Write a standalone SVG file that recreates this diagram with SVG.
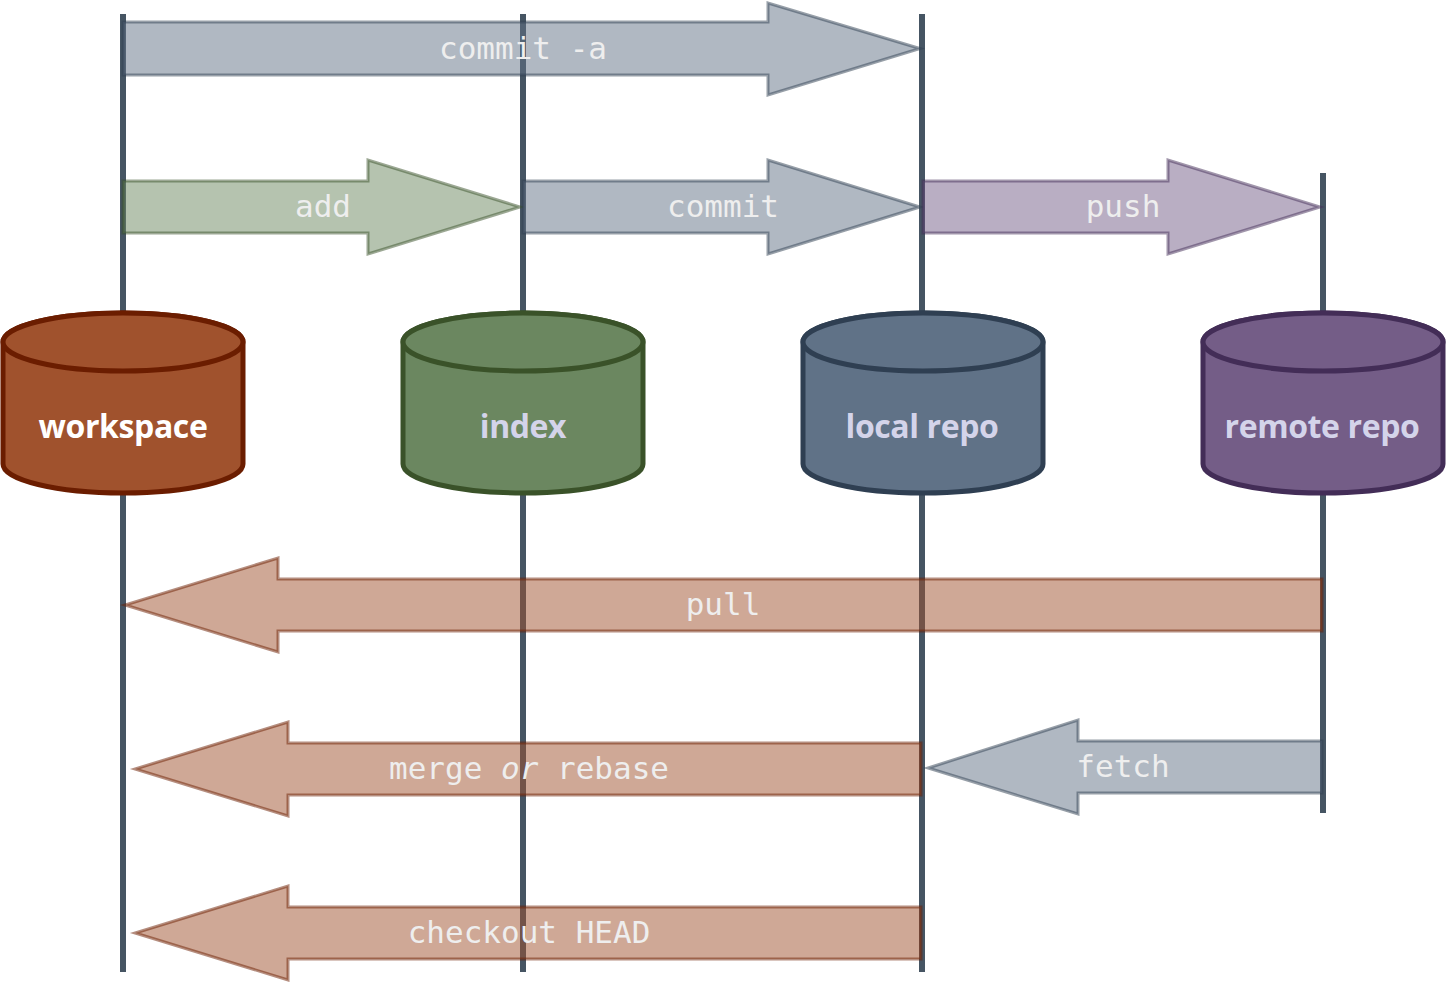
<svg xmlns="http://www.w3.org/2000/svg" width="1446" height="982" viewBox="0 0 1446 982">
  <style>
    .lane { stroke: #465563; stroke-width: 6; fill: none; }
    .cyl { stroke-width: 5; }
    .node-label { font-family: "Open Sans", "Liberation Sans", sans-serif; font-weight: 700; font-size: 32px; text-anchor: middle; letter-spacing: -0.4px; }
    .arrow { stroke-width: 3; fill-opacity: 0.5; stroke-opacity: 0.5; stroke-linejoin: miter; }
    .cmd { font-family: "DejaVu Sans Mono", "Liberation Mono", monospace; font-size: 31px; fill: #eeeeee; text-anchor: middle; }
    .slate { fill: #617185; stroke: #2f3f52; }
    .green { fill: #6b8760; stroke: #3a5229; }
    .plum { fill: #745d87; stroke: #432d57; }
    .rust { fill: #a0522d; stroke: #6b1d00; }
  </style>

  <!-- vertical lanes -->
  <g id="lanes">
    <line class="lane" x1="123" y1="14" x2="123" y2="972"/>
    <line class="lane" x1="523" y1="14" x2="523" y2="972"/>
    <line class="lane" x1="922" y1="14" x2="922" y2="972"/>
    <line class="lane" x1="1323" y1="173" x2="1323" y2="813"/>
  </g>

  <!-- storage cylinders -->
  <g id="workspace">
    <path class="cyl" fill="#a0522d" stroke="#6b1d00" d="M3,342 L3,464 A120,29 0 0 0 243,464 L243,342 A120,29 0 0 0 3,342 Z"/>
    <ellipse class="cyl" fill="#a0522d" stroke="#6b1d00" cx="123" cy="342" rx="120" ry="29"/>
    <text class="node-label" x="123" y="438" fill="#ffffff">workspace</text>
  </g>
  <g id="index">
    <path class="cyl" fill="#6b8760" stroke="#3a5229" d="M403,342 L403,464 A120,29 0 0 0 643,464 L643,342 A120,29 0 0 0 403,342 Z"/>
    <ellipse class="cyl" fill="#6b8760" stroke="#3a5229" cx="523" cy="342" rx="120" ry="29"/>
    <text class="node-label" x="523" y="438" fill="#d4d4ea">index</text>
  </g>
  <g id="local-repo">
    <path class="cyl" fill="#607287" stroke="#2f3f52" d="M803,342 L803,464 A120,29 0 0 0 1043,464 L1043,342 A120,29 0 0 0 803,342 Z"/>
    <ellipse class="cyl" fill="#607287" stroke="#2f3f52" cx="923" cy="342" rx="120" ry="29"/>
    <text class="node-label" x="922" y="438" fill="#d4d4ea">local repo</text>
  </g>
  <g id="remote-repo">
    <path class="cyl" fill="#745d87" stroke="#432d57" d="M1203,342 L1203,464 A120,29 0 0 0 1443,464 L1443,342 A120,29 0 0 0 1203,342 Z"/>
    <ellipse class="cyl" fill="#745d87" stroke="#432d57" cx="1323" cy="342" rx="120" ry="29"/>
    <text class="node-label" x="1322" y="438" fill="#d4d4ea">remote repo</text>
  </g>

  <!-- command arrows -->
  <g id="connectors">
    <path class="arrow slate" d="M123,22 L768,22 L768,3 L920,48.5 L768,95 L768,75 L123,75 Z"/>
    <text class="cmd" x="523" y="59">commit -a</text>

    <path class="arrow green" d="M123,181 L368,181 L368,160 L520,207 L368,254 L368,233 L123,233 Z"/>
    <text class="cmd" x="323" y="217">add</text>

    <path class="arrow slate" d="M523,181 L768,181 L768,160 L920,207 L768,254 L768,233 L523,233 Z"/>
    <text class="cmd" x="723" y="217">commit</text>

    <path class="arrow plum" d="M923,181 L1168,181 L1168,160 L1320,207 L1168,254 L1168,233 L923,233 Z"/>
    <text class="cmd" x="1123" y="217">push</text>

    <path class="arrow rust" d="M1322,579 L278,579 L278,558 L125,605 L278,652 L278,631 L1322,631 Z"/>
    <text class="cmd" x="723" y="615">pull</text>

    <path class="arrow rust" d="M921,743 L288,743 L288,722 L135,769 L288,816 L288,795 L921,795 Z"/>
    <text class="cmd" x="529" y="779">merge <tspan font-style="italic">or</tspan> rebase</text>

    <path class="arrow slate" d="M1322,741 L1078,741 L1078,720 L928,768 L1078,814 L1078,793 L1322,793 Z"/>
    <text class="cmd" x="1123" y="777">fetch</text>

    <path class="arrow rust" d="M921,907 L288,907 L288,886 L135,933 L288,980 L288,959 L921,959 Z"/>
    <text class="cmd" x="529" y="943">checkout HEAD</text>
  </g>
</svg>
